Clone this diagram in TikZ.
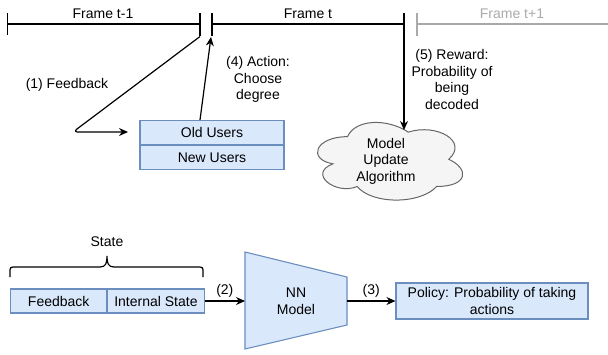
\documentclass[tikz,border=0pt]{standalone}
\usepackage{fontspec}
\setmainfont{Liberation Sans}
\usetikzlibrary{arrows.meta,shapes.geometric}
\definecolor{boxfill}{HTML}{DAE8FC}
\definecolor{boxline}{HTML}{6C8EBF}
\definecolor{cloudfill}{HTML}{F5F5F5}
\definecolor{cloudline}{HTML}{666666}
\definecolor{faded}{HTML}{AAAAAA}
\tikzset{
  txt/.style={font=\fontsize{14}{16.5}\selectfont, align=center, inner sep=0pt},
  line/.style={line width=1.2pt, black},
  arr/.style={line, -{Stealth[length=9pt,width=8pt]}},
  bluebox/.style={draw=boxline, fill=boxfill, line width=1.1pt, inner sep=0pt, font=\fontsize{14}{16.5}\selectfont, align=center},
}
\begin{document}
\begin{tikzpicture}[x=1pt,y=-1pt]
\useasboundingbox (0,0) rectangle (608,354);

% ---- time line ----
\coordinate (t1a) at (7.5,24);
\coordinate (t1b) at (200,24);
\coordinate (t2a) at (212,24);
\coordinate (t2b) at (404,24);
\coordinate (t3a) at (417,24);
\coordinate (t3b) at (608,24);
\draw[line] (t1a) -- (t1b);
\draw[line] (7.5,13) -- (7.5,35);
\draw[line] (200,13) -- (200,36);
\draw[line] (t2a) -- (t2b);
\draw[line] (212,13) -- (212,36);
\draw[faded, line width=1.2pt] (t3a) -- (t3b);
\draw[faded, line width=1.2pt] (417,13) -- (417,36);
\node[txt] (f1) at (103,14) {Frame t-1};
\node[txt] (f2) at (308,14) {Frame t};
\node[txt, text=faded] (f3) at (512,14) {Frame t+1};

% ---- users ----
\node[bluebox, minimum width=144, minimum height=24] (old) at (212,132.5) {Old Users};
\node[bluebox, minimum width=144, minimum height=24, anchor=north] (new) at (old.south) {New Users};

% ---- cloud ----
\draw[draw=cloudline, fill=cloudfill, line width=1pt]
  (347.5,136.65) .. controls (315.1,136.65) and (307,159.3) .. (332.9,163.83)
  .. controls (307,173.8) and (336.2,195.54) .. (357.2,186.48)
  .. controls (371.8,204.6) and (420.4,204.6) .. (436.6,186.48)
  .. controls (469,186.48) and (469,168.36) .. (448.75,159.3)
  .. controls (469,141.18) and (436.6,123.06) .. (408.25,132.12)
  .. controls (388,118.53) and (355.6,118.53) .. (347.5,136.65) -- cycle;
\node[txt] (cloud) at (386,161) {Model\\Update\\Algorithm};

% ---- feedback / action / reward ----
\coordinate (fbstart) at (200,36.5);
\coordinate (fbturn) at (73,132);
\coordinate (fbend) at (128,132);
\draw[arr, rounded corners=5pt] (fbstart) -- (fbturn) -- (fbend);
\node[txt] (fblabel) at (67,85) {(1) Feedback};

\coordinate (acttip) at (211,37);
\draw[arr] (old.north -| 200,0) -- (acttip);
\node[txt] (actlabel) at (258,79.5) {(4) Action:\\Choose\\degree};

\coordinate (rwstart) at (404,13);
\coordinate (rwtip) at (404,130);
\draw[arr] (rwstart) -- (rwtip);
\node[txt] (rwlabel) at (452,79.5) {(5) Reward:\\Probability of\\being\\decoded};

% ---- state ----
\node[bluebox, minimum width=96, minimum height=24] (fbbox) at (58.7,301) {Feedback};
\node[bluebox, minimum width=96.3, minimum height=24, anchor=west] (isbox) at (fbbox.east) {Internal State};
\draw[line] (10,277) -- (10,273) .. controls (10,267) and (10,267) .. (16,267)
  -- (100,267) .. controls (106,267) and (107,263) .. (107,256)
  .. controls (107,263) and (108,267) .. (114,267)
  -- (197,267) .. controls (203,267) and (203,267) .. (203,273) -- (203,277);
\node[txt] (statelabel) at (107,242) {State};

% ---- NN model ----
\coordinate (nnA) at (245,252);
\coordinate (nnB) at (347,277);
\coordinate (nnC) at (347,325);
\coordinate (nnD) at (245,349);
\draw[draw=boxline, fill=boxfill, line width=1.1pt] (nnA) -- (nnB) -- (nnC) -- (nnD) -- cycle;
\node[txt] (nn) at (296,301) {NN\\Model};

\node[bluebox, minimum width=192, minimum height=36] (policy) at (492,301) {Policy: Probability of taking\\actions};

\draw[arr] (isbox.east) -- (245,301) node[txt, pos=0.5, above=3pt] (l2) {(2)};
\draw[arr] (nnB |- nn) -- (policy.west) node[txt, pos=0.5, above=3pt] (l3) {(3)};

\end{tikzpicture}
\end{document}
